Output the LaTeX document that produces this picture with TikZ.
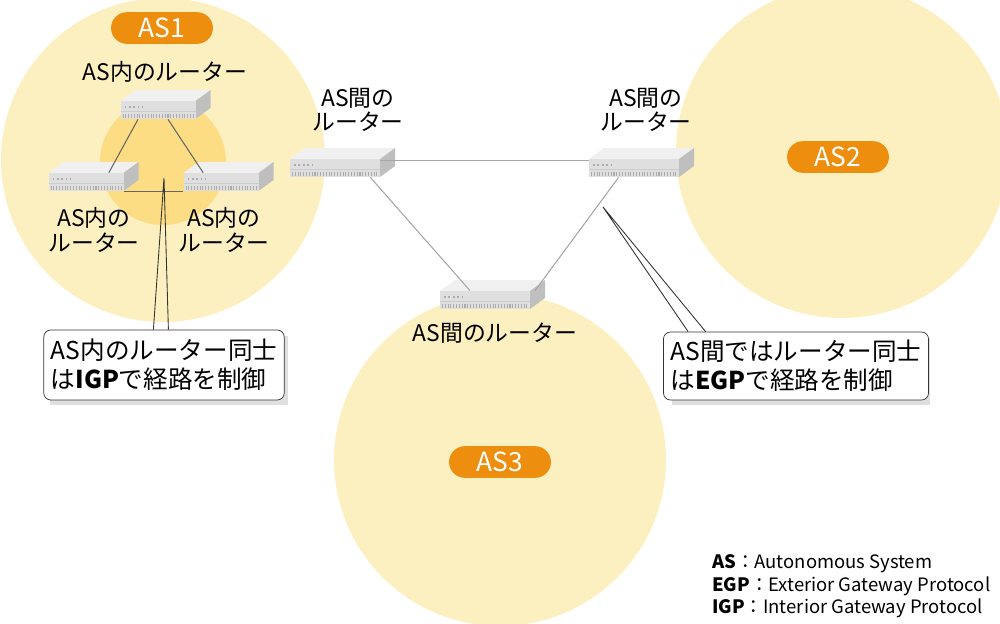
\documentclass[tikz,border=0pt]{standalone}
\usepackage{fontspec}
\setmainfont{Noto Sans CJK JP}
\usetikzlibrary{positioning}
\definecolor{zone}{HTML}{FDF0C0}
\definecolor{core}{HTML}{FCDD84}
\definecolor{pill}{HTML}{EE8E0E}
\tikzset{
  pillbox/.style={rounded corners=9pt, fill=pill, text=white, font=\fontsize{15}{15}\selectfont, minimum width=58pt, minimum height=18pt, inner sep=0pt},
  label/.style={align=center, font=\fontsize{13}{14}\selectfont},
  link/.style={draw=gray!70, line width=0.6pt},
  callout/.style={draw=black!80, rounded corners=4pt, fill=white, align=left, font=\fontsize{14}{16.5}\selectfont, inner sep=4pt},
  pointer/.style={draw=black!80, line width=0.5pt}
}
% router: front face is the named node
\newcommand{\router}[4]{%
  \fill[gray!12] (#2-#4/2,#3-9) -- ++(15,-11) -- ++(#4,0) -- ++(-15,11) -- cycle;
  \fill[gray!50] (#2+#4/2,#3-9) -- ++(15,-11) -- ++(0,18) -- ++(-15,11) -- cycle;
  \node[fill=gray!25, minimum width=#4*0.02cm, minimum height=18*0.02cm, inner sep=0pt] (#1) at (#2,#3) {};
  \draw[gray!40] (#2-#4/2,#3+1) -- (#2+#4/2,#3+1);
  \draw[gray!65, dash pattern=on 0.6pt off 1pt, line width=2pt] (#2-#4/2+2,#3+6) -- (#2+#4/2-2,#3+6);
  \draw[gray!65, dash pattern=on 1pt off 1.5pt, line width=0.6pt] (#2-#4/2+4,#3-3) -- (#2-#4/2+22,#3-3);
}
\begin{document}
\begin{tikzpicture}[x=0.02cm, y=-0.02cm]
\useasboundingbox (0,0) rectangle (1000,623);
\begin{scope}
\clip (0,0) rectangle (1000,623);
%zones
\fill[zone] (163,160) circle (162);
\fill[core] (163,162) circle (63);
\fill[zone] (842,152) circle (166);
\fill[zone] (500,460) circle (166);
\end{scope}

%AS labels
\node[pillbox] (as1) at (162,28) {AS1};
\node[pillbox] (as2) at (838,157) {AS2};
\node[pillbox] (as3) at (500,462) {AS3};

%routers
\router{top}{158}{110}{75}
\router{left}{86}{182}{75}
\router{right}{221}{182}{75}
\router{bl}{335}{168}{90}
\router{br}{634}{168}{90}
\router{bot}{485}{300}{90}

%links
\draw[link] ([yshift=0.15cm]bl.east) -- ([yshift=0.15cm]br.west);
\draw[link] ([xshift=-0.2cm]bl.south east) -- ([xshift=-0.3cm]bot.north);
\draw[link] ([xshift=0.6cm]br.south west) -- ([xshift=1cm]bot.north);
\draw[link, draw=black!60] ([xshift=-0.4cm]top.south) -- ([xshift=-0.3cm]left.north east);
\draw[link, draw=black!60] ([xshift=0.2cm]top.south) -- ([xshift=0.4cm]right.north west);
\draw[link, draw=black!60] (left.south east) -- (right.south west);

%texts
\node[label] (tl) at (165,72) {AS内のルーター};
\node[label] (ll) at (94,230) {AS内の\\ルーター};
\node[label] (rl) at (224,230) {AS内の\\ルーター};
\node[label] (bll) at (358,110) {AS間の\\ルーター};
\node[label] (brl) at (646,110) {AS間の\\ルーター};
\node[label] (botl) at (495,333) {AS間のルーター};

%callouts
\coordinate (p1) at (164,178);
\coordinate (p2) at (603,207);
\fill[gray!25] (50,336) rectangle (288,405);
\fill[gray!25] (672,338) rectangle (930,405);
\node[callout, minimum width=238*0.02cm, minimum height=70*0.02cm] (igp) at (164,365) {AS内のルーター同士\\は\textbf{IGP}で経路を制御};
\node[callout, minimum width=258*0.02cm, minimum height=68*0.02cm] (egp) at (796,366) {AS間ではルーター同士\\は\textbf{EGP}で経路を制御};
\draw[pointer] ([xshift=2.2cm]igp.north west) -- (p1) -- ([xshift=2.5cm]igp.north west);
\draw[pointer] ([xshift=0.5cm]egp.north west) -- (p2) -- ([xshift=0.85cm]egp.north west);
\fill[white] ([xshift=2.22cm,yshift=-0.03cm]igp.north west) rectangle ([xshift=2.48cm,yshift=-0.08cm]igp.north west);
\fill[white] ([xshift=0.52cm,yshift=-0.03cm]egp.north west) rectangle ([xshift=0.83cm,yshift=-0.08cm]egp.north west);

%legend
\node[align=left, anchor=north west, font=\fontsize{10.5}{13}\selectfont] (key) at (706,548)
  {\textbf{AS}：Autonomous System\\ \textbf{EGP}：Exterior Gateway Protocol\\ \textbf{IGP}：Interior Gateway Protocol};
\end{tikzpicture}
\end{document}
